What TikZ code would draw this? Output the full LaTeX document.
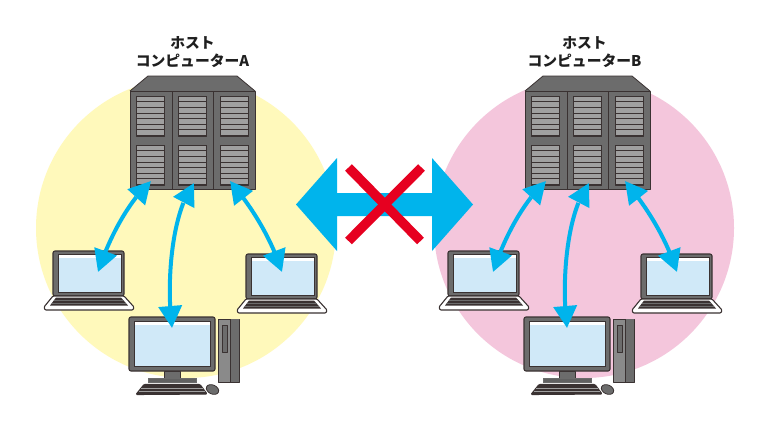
\documentclass[tikz,border=0pt]{standalone}
\usepackage{fontspec}
\newfontfamily\cjk{Noto Sans CJK JP}
\usetikzlibrary{arrows.meta,calc,bending}
\definecolor{cyellow}{HTML}{FFF9BB}
\definecolor{cpink}{HTML}{F4C6DC}
\definecolor{ccyan}{HTML}{00B4EC}
\definecolor{cred}{HTML}{E60020}
\definecolor{cgray}{HTML}{6C6C6C}
\definecolor{cmid}{HTML}{8A8A8A}
\definecolor{cdark}{HTML}{3A3232}
\definecolor{cslat}{HTML}{A0A0A0}
\definecolor{cscreen}{HTML}{D0E9F8}
\tikzset{
 hostlabel/.style={font=\cjk\bfseries\fontsize{14.8}{18}\selectfont,align=center,text=black!88,inner sep=0pt},
 dk/.style={draw=cdark,line width=1.1pt,line join=round},
 srv/.style={draw=cdark,line width=0.8pt,line join=round},
 link/.style={draw=ccyan,line width=4pt,{Triangle[length=22pt,width=23pt]}-{Triangle[length=22pt,width=23pt]}},
}
\newcommand{\hostserver}{%
 \fill[cgray] (130,91)--(148,76)--(237,76)--(255,91)--cycle;
 \draw[srv] (130,91)--(148,76)--(237,76)--(255,91);
 \filldraw[srv,fill=cgray] (130,91) rectangle (255,189);
 \draw[srv] (172,91)--(172,189) (213,91)--(213,189);
 \foreach \px in {136.5,178.5,220.5}{\foreach \py in {96,145}{
  \filldraw[srv,fill=cdark] (\px,\py) rectangle ++(28,40);
  \foreach \k in {0,...,6}{\fill[cslat] (\px+0.6,\py+0.8+\k*5.6) rectangle ++(26.8,4.6);}
 }}%
}
\newcommand{\hostlaptop}{%
 \filldraw[dk,fill=cgray,rounded corners=2pt] (53,251) rectangle (124,296);
 \fill[white] (58,254.5) rectangle (121,258);
 \fill[cscreen] (58,258) rectangle (121,292);
 \draw[cdark,line width=0.6pt] (58,254.5) rectangle (121,292);
 \filldraw[dk,fill=white,rounded corners=1pt] (53,296)--(124,296)--(134,307)--(133,310)--(45,310)--(44,307)--cycle;
 \fill[cdark] (56,297.5)--(121,297.5)--(128,305.5)--(50,305.5)--cycle;
 \draw[cgray,line width=0.5pt] (54,300)--(124,300) (52,303)--(126,303);
}
\newcommand{\hostdesktop}{%
 \filldraw[srv,fill=cmid] (218,319) rectangle (239,382);
 \fill[cgray] (230,319) rectangle (239,382);
 \draw[srv,line width=0.6pt] (230,319)--(230,382);
 \filldraw[srv,fill=cgray,line width=0.6pt] (222,325) rectangle (227,352);
 \filldraw[srv,fill=cgray,line width=0.6pt] (164,371) rectangle (180,378);
 \filldraw[cgray!90!black,draw=cgray] (148,378) rectangle (196,382);
 \filldraw[dk,fill=cgray,rounded corners=2pt] (129,317) rectangle (215,371);
 \fill[white] (134,321) rectangle (210,325);
 \fill[cscreen] (134,325) rectangle (210,366);
 \draw[cdark,line width=0.6pt] (134,321) rectangle (210,366);
 \filldraw[dk,fill=cdark,rounded corners=1pt] (144,384.5)--(200,384.5)--(207,394)--(136,394.5)--cycle;
 \draw[cslat,line width=0.5pt] (141,388)--(203,388) (139,391)--(205,391);
 \filldraw[srv,fill=cgray,rotate around={-25:(212.5,389.5)}] (212.5,389.5) ellipse (6.5 and 4.5);
}
\newcommand{\hostset}[2]{%
 \begin{scope}[shift={(#1,0)}]
  \hostserver
  \begin{scope}[shift={(0,0)}]\hostlaptop\end{scope}
  \begin{scope}[shift={(193,3)}]\hostlaptop\end{scope}
  \hostdesktop
  \coordinate (#2s1) at (151,181);
  \coordinate (#2p1) at (130,200);
  \coordinate (#2q1) at (110,235);
  \coordinate (#2c1) at (98,272);
  \coordinate (#2s2) at (194,183);
  \coordinate (#2p2) at (172,212);
  \coordinate (#2q2) at (166,280);
  \coordinate (#2c2) at (172,328);
  \coordinate (#2s3) at (230,181);
  \coordinate (#2p3) at (250,205);
  \coordinate (#2q3) at (270,235);
  \coordinate (#2c3) at (282,272);
 \end{scope}
 \draw[link] (#2s1) .. controls (#2p1) and (#2q1) .. (#2c1);
 \draw[link] (#2s2) .. controls (#2p2) and (#2q2) .. (#2c2);
 \draw[link] (#2s3) .. controls (#2p3) and (#2q3) .. (#2c3);
}
\begin{document}
\begin{tikzpicture}[x=1pt,y=-1pt]
\useasboundingbox (0,0) rectangle (770,434);
\fill[white] (0,0) rectangle (770,434);
\fill[cyellow] (186,228) circle (150);
\fill[cpink] (584,228) circle (150);
\hostset{0}{a}
\hostset{395}{b}
\node[hostlabel] (la) at (192.5,52) {ホスト\\コンピューターA};
\node[hostlabel] (lb) at (584.5,52) {ホスト\\コンピューターB};
\fill[ccyan] (296,204.5)--(337,158)--(337,193)--(432,193)--(432,158)--(473,204.5)--(432,251)--(432,216)--(337,216)--(337,251)--cycle;
\draw[cred,line width=9.5pt] (348.5,167.5)--(420.5,241);
\draw[cred,line width=9.5pt] (421.5,167.5)--(348.5,241);
\end{tikzpicture}
\end{document}
